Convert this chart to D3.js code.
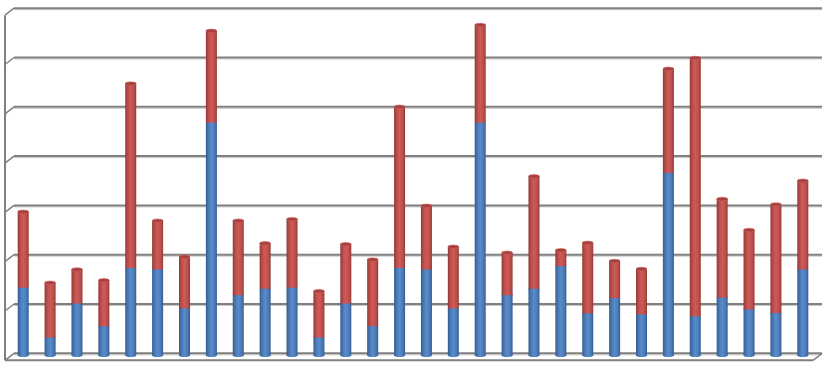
<!DOCTYPE html>
<html>
<head>
<meta charset="utf-8">
<script src="https://cdn.jsdelivr.net/npm/d3@7"></script>
<style>
  body { margin: 0; background: #fff; }
  svg { display: block; }
</style>
</head>
<body>
<div id="chart"></div>
<script>
// Data (gridline step = 10)
const categories = ["1","2","3","4","5","6","7","8","9","10","11","12","13","14","15",
  "16","17","18","19","20","21","22","23","24","25","26","27","28","29","30"];
const seriesBlue = [13.7, 3.6, 10.5, 5.9, 17.7, 17.4, 9.5, 47.2, 12.2, 13.5,
  13.7, 3.6, 10.5, 5.9, 17.7, 17.4, 9.5, 47.2, 12.2, 13.5,
  18.1, 8.5, 11.6, 8.3, 37.0, 7.9, 11.7, 9.3, 8.6, 17.4];
const seriesRed = [15.4, 11.1, 6.9, 9.3, 37.4, 9.9, 10.5, 18.6, 15.1, 9.2,
  13.9, 9.4, 12.0, 13.5, 32.7, 12.9, 12.5, 19.8, 8.6, 22.8,
  3.2, 14.3, 7.5, 9.2, 21.1, 52.4, 20.0, 16.1, 22.0, 18.0];
const gridTicks = [0, 10, 20, 30, 40, 50, 60, 70];

const width = 829, height = 366;
const svg = d3.select("#chart").append("svg")
  .attr("width", width).attr("height", height);

const y = d3.scaleLinear().domain([0, 70]).range([355.3, 10.2]);
const x = d3.scaleBand().domain(categories).range([9.9, 816.1]).paddingInner(0.59).paddingOuter(0.29);

// back wall offset (3D depth)
const dx = 9, dy = -7;
const wallLeft = 5, wallRight = 813;
const front = 5; // front edge of the walls, below the bar level

const defs = svg.append("defs");
function cylGrad(id, dark, mid, light) {
  const g = defs.append("linearGradient").attr("id", id)
    .attr("x1", "0%").attr("x2", "100%").attr("y1", "0%").attr("y2", "0%");
  [[0, dark], [0.25, mid], [0.5, light], [0.8, mid], [1, dark]].forEach(s =>
    g.append("stop").attr("offset", s[0]).attr("stop-color", s[1]));
}
cylGrad("gBlue", "#335d92", "#4a7ab6", "#5a8cca");
cylGrad("gRed", "#933936", "#bc4e4b", "#cd5b58");

// gridlines on back wall + left wall ticks
const grid = svg.append("g");
gridTicks.forEach(t => {
  const yy = y(t) + front;
  grid.append("line")
    .attr("x1", wallLeft + dx).attr("x2", wallRight + dx)
    .attr("y1", yy + dy + 1.5).attr("y2", yy + dy + 1.5)
    .attr("stroke", "#c8c8c8").attr("stroke-width", 1);
  grid.append("line")
    .attr("x1", wallLeft + dx).attr("x2", wallRight + dx)
    .attr("y1", yy + dy).attr("y2", yy + dy)
    .attr("stroke", "#808080").attr("stroke-width", 2);
  grid.append("line")
    .attr("x1", wallLeft).attr("y1", yy)
    .attr("x2", wallLeft + dx).attr("y2", yy + dy)
    .attr("stroke", "#808080").attr("stroke-width", 1.5);
});

// left wall vertical edge
grid.append("line")
  .attr("x1", wallLeft).attr("x2", wallLeft)
  .attr("y1", y(70) + front).attr("y2", y(0) + front)
  .attr("stroke", "#808080").attr("stroke-width", 2);

// floor front edge and right corner
const floorY = y(0) + front;
grid.append("line")
  .attr("x1", wallLeft).attr("x2", wallRight)
  .attr("y1", floorY).attr("y2", floorY)
  .attr("stroke", "#808080").attr("stroke-width", 2);
grid.append("line")
  .attr("x1", wallRight).attr("y1", floorY)
  .attr("x2", wallRight + dx).attr("y2", floorY + dy)
  .attr("stroke", "#808080").attr("stroke-width", 1.5);

// stacked cylinders
const data = categories.map((c, i) => ({ cat: c, blue: seriesBlue[i], red: seriesRed[i] }));
const bw = x.bandwidth();
const ry = 1.8;

const bars = svg.append("g").selectAll("g").data(data).join("g");

bars.append("ellipse")
  .attr("cx", d => x(d.cat) + bw / 2).attr("cy", y(0))
  .attr("rx", bw / 2).attr("ry", ry)
  .attr("fill", "url(#gBlue)");

bars.append("rect")
  .attr("x", d => x(d.cat)).attr("width", bw)
  .attr("y", d => y(d.blue)).attr("height", d => y(0) - y(d.blue))
  .attr("fill", "url(#gBlue)");

bars.append("ellipse")
  .attr("cx", d => x(d.cat) + bw / 2).attr("cy", d => y(d.blue))
  .attr("rx", bw / 2).attr("ry", ry)
  .attr("fill", "url(#gBlue)");

bars.append("rect")
  .attr("x", d => x(d.cat)).attr("width", bw)
  .attr("y", d => y(d.blue + d.red)).attr("height", d => y(d.blue) - y(d.blue + d.red))
  .attr("fill", "url(#gRed)");

// top cap
bars.append("ellipse")
  .attr("cx", d => x(d.cat) + bw / 2).attr("cy", d => y(d.blue + d.red))
  .attr("rx", bw / 2).attr("ry", ry)
  .attr("fill", "#a8413e")
  .attr("stroke", "#c9605d").attr("stroke-width", 0.6);
</script>
</body>
</html>
